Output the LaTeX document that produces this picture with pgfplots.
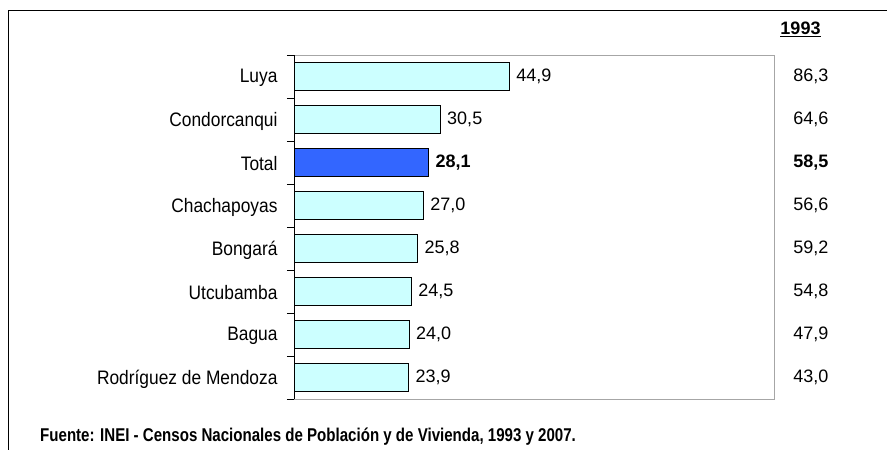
\documentclass[border=0pt]{standalone}
\usepackage{pgfplots}
\usepackage{pgfplotstable}
\pgfplotsset{compat=1.18}
\usepackage{fontspec}
\setmainfont{Liberation Sans}
\newfontfamily\narrowfont[FakeStretch=0.815]{Liberation Sans}
\newfontfamily\labelfont[FakeStretch=0.89]{Liberation Sans}
\pgfkeys{/pgf/number format/assume math mode=true}
\definecolor{barcyan}{HTML}{CCFFFF}
\definecolor{barblue}{HTML}{3366FF}
\pgfplotstableread{
y x
0 44.9
1 30.5
3 27.0
4 25.8
5 24.5
6 24.0
7 23.9
}\dataA
\pgfplotstableread{
y x
2 28.1
}\dataT
\pgfplotstableread{
y v
0 86.3
1 64.6
3 56.6
4 59.2
5 54.8
6 47.9
7 43.0
}\dataB
\pgfplotstableread{
y v
2 58.5
}\dataBT
\begin{document}
\begin{tikzpicture}[x=1pt,y=1pt]
\useasboundingbox (0,0) rectangle (887,450);
\draw[line width=1pt] (8,439) rectangle (920,-30);
\node[font=\bfseries\fontsize{18}{20}\selectfont] at (800.5,420.5) {\underline{1993}};
\node[anchor=base west, inner sep=0pt, font=\narrowfont\bfseries\fontsize{18.5}{20}\selectfont] at (40,8) {Fuente: INEI - Censos Nacionales de Población y de Vivienda, 1993 y 2007.};
\begin{axis}[
  at={(294pt,51pt)}, anchor=south west, scale only axis,
  width=480pt, height=344pt,
  xmin=0, xmax=100, ymin=-0.5, ymax=7.5, y dir=reverse,
  /pgf/number format/assume math mode=true,
  xtick=\empty,
  ytick={0,...,7},
  yticklabels={Luya,Condorcanqui,Total,Chachapoyas,Bongará,Utcubamba,Bagua,Rodríguez de Mendoza},
  major tick length=0pt,
  minor ytick={-0.5,0.5,...,7.5},
  minor tick length=7pt,
  tick align=outside, ytick pos=left,
  tick style={black, line width=0.8pt},
  axis line style={gray!70, line width=0.8pt},
  yticklabel style={font=\labelfont\fontsize{19.5}{20}\selectfont, xshift=-13pt, yshift=-1.5pt},
  clip=false,
  bar width=28pt,
]
\addplot[xbar, bar shift=0pt, fill=barcyan, draw=black, line width=1pt,
  nodes near coords={\pgfmathprintnumber[fixed,fixed zerofill,precision=1,use comma]{\pgfplotspointmeta}},
  every node near coord/.append style={font=\fontsize{18}{20}\selectfont, xshift=3pt}]
  table[x=x,y=y] {\dataA};
\addplot[xbar, bar shift=0pt, fill=barblue, draw=black, line width=1pt,
  nodes near coords={\pgfmathprintnumber[fixed,fixed zerofill,precision=1,use comma]{\pgfplotspointmeta}},
  every node near coord/.append style={font=\bfseries\fontsize{18}{20}\selectfont, xshift=3pt}]
  table[x=x,y=y] {\dataT};
\addplot[only marks, mark=none, point meta=explicit,
  nodes near coords={\pgfmathprintnumber[fixed,fixed zerofill,precision=1,use comma]{\pgfplotspointmeta}},
  every node near coord/.style={anchor=west, inner sep=0pt, font=\fontsize{18}{20}\selectfont}]
  table[x expr=104.0, y=y, meta=v] {\dataB};
\addplot[only marks, mark=none, point meta=explicit,
  nodes near coords={\pgfmathprintnumber[fixed,fixed zerofill,precision=1,use comma]{\pgfplotspointmeta}},
  every node near coord/.style={anchor=west, inner sep=0pt, font=\bfseries\fontsize{18}{20}\selectfont}]
  table[x expr=104.0, y=y, meta=v] {\dataBT};
\draw[black, line width=0.8pt] (rel axis cs:0,0) -- (rel axis cs:0,1);
\end{axis}
\end{tikzpicture}
\end{document}
